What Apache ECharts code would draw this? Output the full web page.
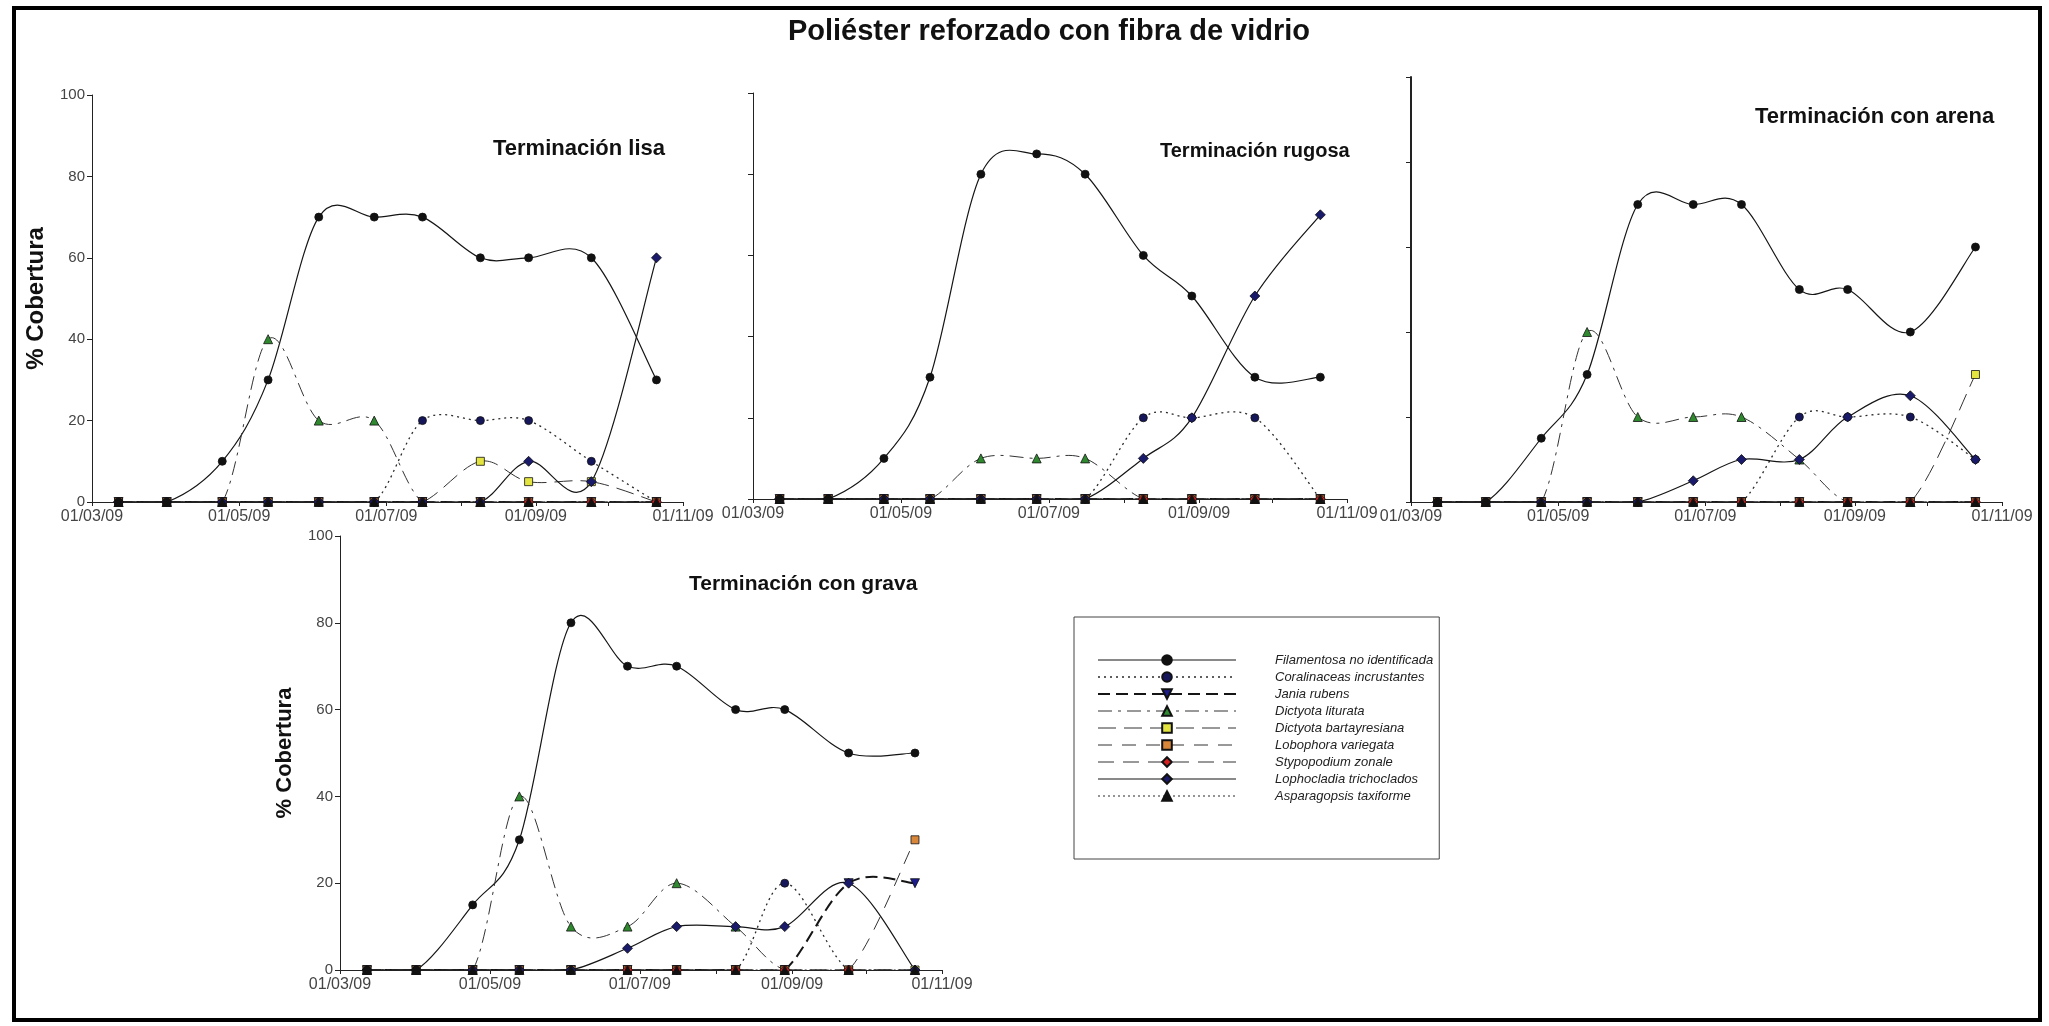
<!DOCTYPE html>
<html>
<head>
<meta charset="utf-8">
<script src="https://cdn.jsdelivr.net/npm/echarts@6/dist/echarts.min.js"></script>
<style>
  html, body { margin: 0; padding: 0; background: #fff; }
  #chart { width: 2049px; height: 1026px; }
</style>
</head>
<body>
<div id="chart"></div>
<script>
// Sampling dates (same for every finish)
const sampleDates = ['2009-03-12', '2009-04-01', '2009-04-24', '2009-05-13', '2009-06-03', '2009-06-26',
                     '2009-07-16', '2009-08-09', '2009-08-29', '2009-09-24', '2009-10-21'];

const species = ['Filamentosa no identificada', 'Coralinaceas incrustantes', 'Jania rubens',
                 'Dictyota liturata', 'Dictyota bartayresiana', 'Lobophora variegata',
                 'Stypopodium zonale', 'Lophocladia trichoclados', 'Asparagopsis taxiforme'];

const mainTitle = 'Poliéster reforzado con fibra de vidrio';
const panelTitles = ['Terminación lisa', 'Terminación rugosa', 'Terminación con arena', 'Terminación con grava'];
const yAxisTitle = '% Cobertura';

const xTickDates = ['2009-03-01', '2009-05-01', '2009-07-01', '2009-09-01', '2009-11-01'];
const xTickLabels = ['01/03/09', '01/05/09', '01/07/09', '01/09/09', '01/11/09'];
const monthDates = ['2009-03-01', '2009-04-01', '2009-05-01', '2009-06-01', '2009-07-01',
                    '2009-08-01', '2009-09-01', '2009-10-01', '2009-11-01'];
const yTicks = [0, 20, 40, 60, 80, 100];

// % cover per species (rows follow `species` order), one block per finish
const lisa = [
  [0, 0, 10, 30, 70, 70, 70, 60, 60, 60, 30],
  [0, 0, 0, 0, 0, 0, 20, 20, 20, 10, 0],
  [0, 0, 0, 0, 0, 0, 0, 0, 0, 0, 0],
  [0, 0, 0, 40, 20, 20, 0, 0, 0, 0, 0],
  [0, 0, 0, 0, 0, 0, 0, 10, 5, 5, 0],
  [0, 0, 0, 0, 0, 0, 0, 0, 0, 0, 0],
  [0, 0, 0, 0, 0, 0, 0, 0, 0, 0, 0],
  [0, 0, 0, 0, 0, 0, 0, 0, 10, 5, 60],
  [0, 0, 0, 0, 0, 0, 0, 0, 0, 0, 0]
];
const rugosa = [
  [0, 0, 10, 30, 80, 85, 80, 60, 50, 30, 30],
  [0, 0, 0, 0, 0, 0, 0, 20, 20, 20, 0],
  [0, 0, 0, 0, 0, 0, 0, 0, 0, 0, 0],
  [0, 0, 0, 0, 10, 10, 10, 0, 0, 0, 0],
  [0, 0, 0, 0, 0, 0, 0, 0, 0, 0, 0],
  [0, 0, 0, 0, 0, 0, 0, 0, 0, 0, 0],
  [0, 0, 0, 0, 0, 0, 0, 0, 0, 0, 0],
  [0, 0, 0, 0, 0, 0, 0, 10, 20, 50, 70],
  [0, 0, 0, 0, 0, 0, 0, 0, 0, 0, 0]
];
const arena = [
  [0, 0, 15, 30, 70, 70, 70, 50, 50, 40, 60],
  [0, 0, 0, 0, 0, 0, 0, 20, 20, 20, 10],
  [0, 0, 0, 0, 0, 0, 0, 0, 0, 0, 0],
  [0, 0, 0, 40, 20, 20, 20, 10, 0, 0, 0],
  [0, 0, 0, 0, 0, 0, 0, 0, 0, 0, 30],
  [0, 0, 0, 0, 0, 0, 0, 0, 0, 0, 0],
  [0, 0, 0, 0, 0, 0, 0, 0, 0, 0, 0],
  [0, 0, 0, 0, 0, 5, 10, 10, 20, 25, 10],
  [0, 0, 0, 0, 0, 0, 0, 0, 0, 0, 0]
];
const grava = [
  [0, 0, 15, 30, 80, 70, 70, 60, 60, 50, 50],
  [0, 0, 0, 0, 0, 0, 0, 0, 20, 0, 0],
  [0, 0, 0, 0, 0, 0, 0, 0, 0, 20, 20],
  [0, 0, 0, 40, 10, 10, 20, 10, 0, 0, 0],
  [0, 0, 0, 0, 0, 0, 0, 0, 0, 0, 0],
  [0, 0, 0, 0, 0, 0, 0, 0, 0, 0, 30],
  [0, 0, 0, 0, 0, 0, 0, 0, 0, 0, 0],
  [0, 0, 0, 0, 0, 5, 10, 10, 10, 20, 0],
  [0, 0, 0, 0, 0, 0, 0, 0, 0, 0, 0]
];

// ---- layout & styling ----
const FONT = '"Liberation Sans", Arial, sans-serif';
const DAY_MS = 86400000;
const START = Date.UTC(2009, 2, 1);
const dayOf = s => { const [y, m, d] = s.split('-').map(Number); return (Date.UTC(y, m - 1, d) - START) / DAY_MS; };
const xDays = sampleDates.map(dayOf);
const labelDays = xTickDates.map(dayOf);
const monthDays = monthDates.map(dayOf);

const panels = [
  { values: lisa,   grid: { left: 92,   top: 95,  width: 591, height: 407 }, yLabels: true,  yName: true, nameSize: 24, axisW: 1,
    title: { left: 488, top: 133, size: 22 } },
  { values: rugosa, grid: { left: 753,  top: 93,  width: 594, height: 406 }, yLabels: false, yName: false, axisW: 1,
    title: { left: 1155, top: 136, size: 20 } },
  { values: arena,  grid: { left: 1411, top: 77,  width: 591, height: 425 }, yLabels: false, yName: false, axisW: 2,
    title: { left: 1750, top: 101, size: 22 } },
  { values: grava,  grid: { left: 340,  top: 536, width: 602, height: 434 }, yLabels: true,  yName: true, nameSize: 22, axisW: 1,
    title: { left: 684, top: 569, size: 21 } }
];

const looks = [
  { dash: null,          w: 1.2, line: '#151515', symbol: 'circle',   size: 8,  fill: '#111111' },
  { dash: [2, 4],        w: 1.3, line: '#2a2a2a', symbol: 'circle',   size: 8,  fill: '#16165a' },
  { dash: [12, 6],       w: 2,   line: '#151515', symbol: 'triangle', size: 9,  fill: '#1c1c8c', rot: 180 },
  { dash: [14, 6, 3, 6], w: 1,   line: '#333333', symbol: 'triangle', size: 9,  fill: '#2f8a2f' },
  { dash: [18, 8],       w: 1,   line: '#333333', symbol: 'rect',     size: 8,  fill: '#e4e440' },
  { dash: [14, 10],      w: 1,   line: '#333333', symbol: 'rect',     size: 8,  fill: '#d8863a' },
  { dash: [16, 9],       w: 1,   line: '#333333', symbol: 'diamond',  size: 10, fill: '#d42020' },
  { dash: null,          w: 1.2, line: '#151515', symbol: 'diamond',  size: 10, fill: '#1a1a6a' },
  { dash: [2, 3],        w: 1.2, line: '#2a2a2a', symbol: 'triangle', size: 9,  fill: '#111111' }
];

// Smoothed curve through the points of one series, one cubic segment per interval
// (Catmull-Rom style tangents, computed in pixel space from the axis scales).
function smoothCurve(lk) {
  return function (params, api) {
    const n = params.dataInsideLength;
    const i = params.dataIndexInside;
    if (i >= n - 1) return null;
    const pt = k => { k = Math.max(0, Math.min(n - 1, k)); return api.coord([api.value(0, k), api.value(1, k)]); };
    const p0 = pt(i - 1), p1 = pt(i), p2 = pt(i + 1), p3 = pt(i + 2);
    const t = 1 / 6;
    return {
      type: 'bezierCurve',
      shape: {
        x1: p1[0], y1: p1[1], x2: p2[0], y2: p2[1],
        cpx1: p1[0] + (p2[0] - p0[0]) * t, cpy1: p1[1] + (p2[1] - p0[1]) * t,
        cpx2: p2[0] - (p3[0] - p1[0]) * t, cpy2: p2[1] - (p3[1] - p1[1]) * t
      },
      style: { fill: null, stroke: lk.line, lineWidth: lk.w, lineDash: lk.dash || null }
    };
  };
}

const grids = [], xAxes = [], yAxes = [], series = [];
const titles = [{
  text: mainTitle, left: 1044, top: 12, textAlign: 'center',
  textStyle: { fontFamily: FONT, fontSize: 29, fontWeight: 'bold', color: '#111' }
}];

panels.forEach((p, gi) => {
  grids.push(Object.assign({ containLabel: false }, p.grid));
  titles.push({
    text: panelTitles[gi], left: p.title.left, top: p.title.top,
    textStyle: { fontFamily: FONT, fontSize: p.title.size, fontWeight: 'bold', color: '#111' }
  });
  xAxes.push({
    gridIndex: gi, type: 'value', min: 0, max: dayOf('2009-11-01'),
    axisLine: { show: true, onZero: false, lineStyle: { color: '#222', width: 1 } },
    axisTick: { show: true, length: 4, customValues: monthDays, lineStyle: { color: '#222' } },
    axisLabel: {
      show: true, customValues: labelDays, fontFamily: FONT, fontSize: 16, color: '#444', margin: 7,
      formatter: v => { const i = labelDays.indexOf(Math.round(v)); return i >= 0 ? xTickLabels[i] : ''; }
    },
    splitLine: { show: false }
  });
  yAxes.push({
    gridIndex: gi, type: 'value', min: yTicks[0], max: yTicks[yTicks.length - 1], interval: 20,
    axisLine: { show: true, lineStyle: { color: '#222', width: p.axisW } },
    axisTick: { show: true, length: 5, lineStyle: { color: '#222' } },
    axisLabel: { show: p.yLabels, fontFamily: FONT, fontSize: 15, color: '#444', margin: 7 },
    splitLine: { show: false },
    name: p.yName ? yAxisTitle : '', nameLocation: 'middle', nameGap: 44,
    nameTextStyle: { fontFamily: FONT, fontSize: p.nameSize || 22, fontWeight: 'bold', color: '#111' }
  });
  p.values.forEach((vals, si) => {
    const lk = looks[si];
    const pts = vals.map((v, k) => [xDays[k], v]);
    // curve
    series.push({
      type: 'custom', xAxisIndex: gi, yAxisIndex: gi, clip: true,
      data: pts, encode: { x: 0, y: 1 }, renderItem: smoothCurve(lk),
      z: 2, silent: true, animation: false
    });
    // markers (also feed the legend)
    series.push({
      type: 'line', name: species[si], xAxisIndex: gi, yAxisIndex: gi,
      data: pts, showAllSymbol: true,
      symbol: lk.symbol, symbolSize: lk.size, symbolRotate: lk.rot || 0,
      lineStyle: { opacity: 0 },
      itemStyle: { color: lk.fill, borderColor: '#111', borderWidth: 0.8 },
      z: si === 0 ? 5 : 4, animation: false
    });
  });
});

const legendItems = species.map((name, si) => ({
  name: name,
  lineStyle: { color: looks[si].line, width: looks[si].w, type: looks[si].dash || 'solid', opacity: 1 }
}));

const chart = echarts.init(document.getElementById('chart'), null, { renderer: 'canvas' });
chart.setOption({
  backgroundColor: '#fff',
  animation: false,
  title: titles,
  grid: grids,
  xAxis: xAxes,
  yAxis: yAxes,
  legend: {
    data: legendItems, orient: 'vertical', left: 1074, top: 617,
    padding: [36, 6, 56, 23], itemWidth: 138, itemHeight: 12, itemGap: 3,
    borderColor: '#444', borderWidth: 1, backgroundColor: '#fff',
    selectedMode: false,
    textStyle: { fontFamily: FONT, fontStyle: 'italic', fontSize: 13, color: '#222', lineHeight: 14, padding: [0, 0, 0, 34] }
  },
  graphic: [{
    type: 'rect', silent: true, z: 100,
    shape: { x: 14, y: 8, width: 2026, height: 1012 },
    style: { fill: 'none', stroke: '#000', lineWidth: 4 }
  }],
  series: series
});
</script>
</body>
</html>
